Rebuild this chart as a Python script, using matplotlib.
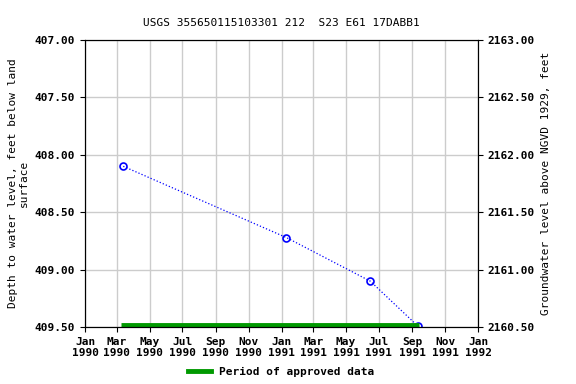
import matplotlib
matplotlib.use("Agg")
import matplotlib.pyplot as plt
import matplotlib.dates as mdates
import pandas as pd

# measurements: date, depth to water (ft below land surface)
dates = pd.to_datetime(["1990-03-13", "1991-01-10", "1991-06-15", "1991-09-11"])
depth = [408.10, 408.72, 409.10, 409.49]
approved_start = pd.Timestamp("1990-03-08")
approved_end = pd.Timestamp("1991-09-13")
datum = 2570.0  # land surface elevation, NGVD 1929

plt.rcParams['font.family'] = ['DejaVu Sans Mono']
plt.rcParams['font.weight'] = 'bold'
plt.rcParams['font.size'] = 8

fig = plt.figure(figsize=(5.76, 3.84), dpi=100)
ax = fig.add_axes([0.1476, 0.148, 0.6823, 0.748])

ax.plot(dates, depth, color='blue', linestyle=':', linewidth=0.9,
        marker='o', markersize=5, markerfacecolor='none', markeredgecolor='blue', markeredgewidth=1.2)
ax.plot([approved_start, approved_end], [409.48, 409.48], color='#009900', linewidth=3.5, solid_capstyle='butt')

left_ticks = [407.0, 407.5, 408.0, 408.5, 409.0, 409.5]
ax.set_ylim(409.5, 407.0)
ax.set_yticks(left_ticks)
ax.set_yticklabels(["%.2f" % v for v in left_ticks])
ax.set_xlim(pd.Timestamp("1990-01-01"), pd.Timestamp("1992-01-01"))
ax.xaxis.set_major_locator(mdates.MonthLocator(bymonth=[1, 3, 5, 7, 9, 11]))
ax.xaxis.set_major_formatter(mdates.DateFormatter("%b\n%Y"))
ax.grid(True, color='#cccccc', linewidth=1)
ax.set_axisbelow(True)
ax.set_ylabel("Depth to water level, feet below land\nsurface")
ax.set_title("USGS 355650115103301 212  S23 E61 17DABB1", fontsize=8, pad=10)

right_ticks = [2160.5, 2161.0, 2161.5, 2162.0, 2162.5, 2163.0]
ax2 = ax.twinx()
ax2.set_ylim(datum - 409.5, datum - 407.0)
ax2.set_yticks(right_ticks)
ax2.set_yticklabels(["%.2f" % v for v in right_ticks])
ax2.set_ylabel("Groundwater level above NGVD 1929, feet")

ax.plot([], [], color='#009900', linewidth=3.5, label='Period of approved data')
ax.legend(loc='upper center', bbox_to_anchor=(0.5, -0.11), frameon=False, handlelength=2.0,
          borderpad=0.2)

fig.savefig("out.png", dpi=100)
